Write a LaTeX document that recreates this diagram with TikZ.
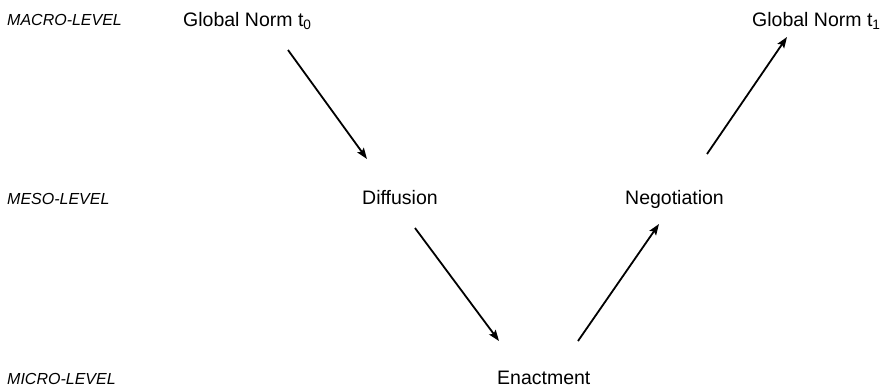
\documentclass[tikz,border=0pt]{standalone}
\usepackage{fontspec}
\setmainfont{Liberation Sans}
\usetikzlibrary{arrows.meta}
\tikzset{
  level/.style={anchor=base west, inner sep=0pt, font=\fontsize{16}{19}\selectfont\itshape},
  term/.style={anchor=base west, inner sep=0pt, font=\fontsize{19.5}{23}\selectfont},
  flow/.style={line width=1.8pt, -{Stealth[length=11pt,width=8pt,inset=2pt]}}
}
\begin{document}
\begin{tikzpicture}[x=1pt,y=-1pt]
\useasboundingbox (0,0) rectangle (885,391);
\node[level] (macro) at (7,25) {MACRO-LEVEL};
\node[level] (meso) at (7,204) {MESO-LEVEL};
\node[level] (micro) at (7,384) {MICRO-LEVEL};
\node[term] (g0) at (183,26) {Global Norm t\textsubscript{0}};
\node[term] (g1) at (752,26) {Global Norm t\textsubscript{1}};
\node[term] (diff) at (362,204) {Diffusion};
\node[term] (nego) at (625,204) {Negotiation};
\node[term] (enac) at (497,384) {Enactment};
\coordinate (a1s) at (288,50);
\coordinate (a1e) at (367,159);
\coordinate (a2s) at (415,228);
\coordinate (a2e) at (499,341);
\coordinate (a3s) at (578,341);
\coordinate (a3e) at (659,224);
\coordinate (a4s) at (707,154);
\coordinate (a4e) at (787,37);
\draw[flow] (a1s) -- (a1e);
\draw[flow] (a2s) -- (a2e);
\draw[flow] (a3s) -- (a3e);
\draw[flow] (a4s) -- (a4e);
\end{tikzpicture}
\end{document}
